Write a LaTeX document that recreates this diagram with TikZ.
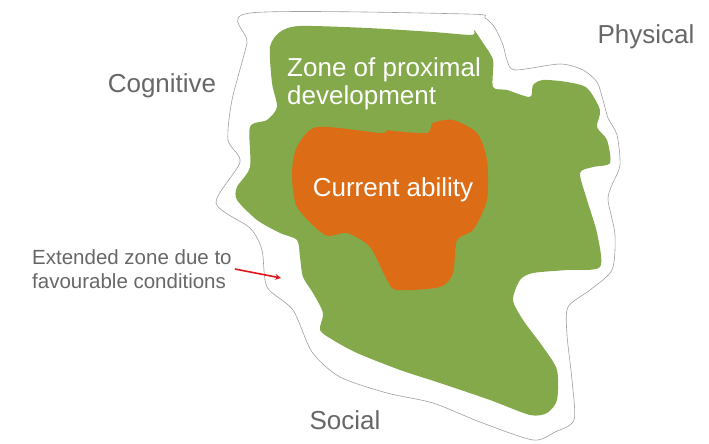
\documentclass[tikz,border=0pt]{standalone}
\usepackage{fontspec}
\setmainfont{Liberation Sans}
\usetikzlibrary{positioning}
\definecolor{Leaf}{HTML}{84A94A}
\definecolor{Rust}{HTML}{DC6D16}
\definecolor{Slate}{HTML}{676767}
\definecolor{Rim}{HTML}{A0A0A0}
\definecolor{Alert}{HTML}{E0161B}
\tikzset{
  domain label/.style={text=Slate,inner sep=0pt,font=\fontsize{26}{28}\selectfont},
  zone label/.style={text=white,inner sep=0pt,align=left,font=\fontsize{26}{28}\selectfont},
  note label/.style={text=Slate,inner sep=0pt,align=left,font=\fontsize{20.5}{24}\selectfont},
  note arrow/.style={->,>=stealth,line width=1.6pt,draw=Alert},
  blob/.style={smooth cycle,tension=0.45}
}

\begin{document}
\begin{tikzpicture}[x=1pt,y=-1pt]
  \useasboundingbox (0,0) rectangle (709,444);
  % extended zone
  \draw[Rim,fill=white,line width=0.6pt] plot[blob] coordinates {(250,13) (467,14) (485,18) (495,28)
    (503,45) (507,60) (515,70) (560,64) (583,70) (597,82) (603,100) (608,118) (617,135)
    (620,165) (612,185) (608,200) (615,235) (612,270) (590,290) (568,307) (567,335)
    (572,380) (574,420) (555,432) (533,440) (480,422) (433,403) (387,393) (340,377)
    (312,352) (293,310) (267,287) (262,250) (250,228) (216,203) (240,162) (228,140)
    (232,100) (247,43)};
  % zone of proximal development
  \fill[Leaf] plot[blob] coordinates {(270,47) (272,83) (277,107) (267,120) (250,127)
    (250,167) (237,187) (237,200) (257,220) (280,233) (297,240) (300,257) (303,277)
    (313,293) (323,313) (320,330) (333,340) (357,353) (400,370) (440,383) (490,400)
    (530,415) (547,413) (557,400) (557,370) (543,347) (523,320) (513,300) (520,280)
    (533,273) (567,270) (600,267) (597,233) (587,200) (580,173) (593,167) (610,163)
    (607,140) (597,127) (600,110) (587,88) (567,82) (543,80) (533,85) (530,97)
    (507,90) (493,87) (493,60) (483,43) (474,30) (472,35) (433,32) (367,28)
    (300,26) (280,32)};
  % current ability
  \fill[Rust] plot[blob] coordinates {(317,127) (380,133) (387,130) (393,131) (427,133)
    (433,123) (453,120) (477,133) (487,160) (487,200) (473,230) (457,240) (453,273)
    (440,287) (397,290) (387,280) (370,247) (347,233) (325,235) (297,207) (292,173)
    (297,147)};

  \node[domain label] (physical) at (646,37) {Physical};
  \node[domain label] (cognitive) at (162,86) {Cognitive};
  \node[domain label] (social) at (345,420) {Social};
  \node[zone label,anchor=west] (zpd) at (287,84) {Zone of proximal\\development};
  \node[zone label] (ability) at (393,190) {Current ability};
  \node[note label,anchor=west] (extended) at (32,269) {Extended zone due to\\favourable conditions};

  \coordinate (extpoint) at (281,278);
  \draw[note arrow] ([xshift=3pt]extended.east) -- (extpoint);
\end{tikzpicture}
\end{document}
